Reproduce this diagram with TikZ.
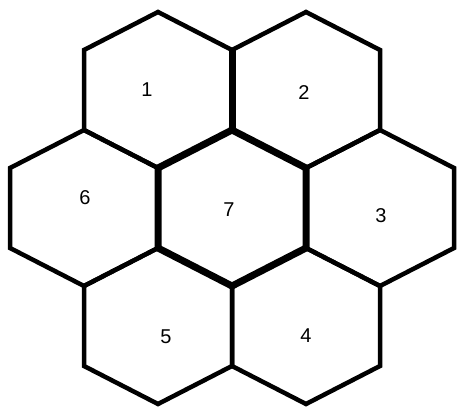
\documentclass[tikz,border=0pt]{standalone}
\usepackage{fontspec}
\setmainfont{Liberation Sans}
\usetikzlibrary{positioning}
% one cell of the honeycomb, centred on the current origin
\newcommand{\hexcell}{(0,-78) -- (74,-40) -- (74,40) -- (0,78) -- (-74,40) -- (-74,-40) -- cycle}

\begin{document}
\begin{tikzpicture}[x=1pt,y=-1pt, every node/.style={font=\fontsize{20}{22}\selectfont,inner sep=0pt},
cell/.style={draw=black,line width=4.5pt},
heavy/.style={draw=black,line width=7pt}]
\useasboundingbox (0,0) rectangle (458,407);
\foreach \cx/\cy in {158/90,306/90,84/208,232/208,380/208,158/326,306/326}
  \draw[cell,shift={(\cx,\cy)}] \hexcell;
% heavier outline round the middle cell
\draw[heavy,shift={(232,208)}] \hexcell;
\draw[heavy] (232,50) -- (232,130);
\node (one) at (147,90) {1};
\node (two) at (304,93) {2};
\node (six) at (85,198) {6};
\node (seven) at (229,210) {7};
\node (three) at (381,216) {3};
\node (five) at (166,337) {5};
\node (four) at (306,336) {4};
\end{tikzpicture}
\end{document}
